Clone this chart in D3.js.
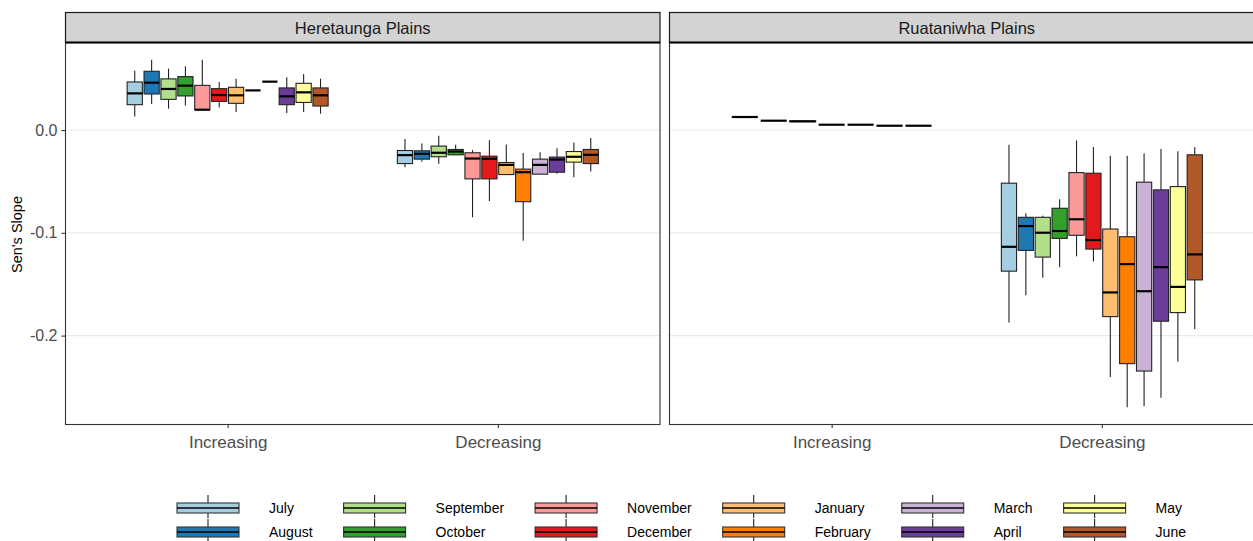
<!DOCTYPE html>
<html>
<head>
<meta charset="utf-8">
<script src="https://cdn.jsdelivr.net/npm/d3@7"></script>
<style>
  html, body { margin: 0; padding: 0; background: #ffffff; }
  svg { display: block; font-family: "Liberation Sans", Arial, sans-serif; }
</style>
</head>
<body>
<svg id="chart" width="1253" height="541"></svg>
<script>
// Months in plotting order, with the Brewer "Paired" palette
const months = ["July", "August", "September", "October", "November", "December",
                "January", "February", "March", "April", "May", "June"];
const monthColors = ["#A6CEE3", "#1F78B4", "#B2DF8A", "#33A02C", "#FB9A99", "#E31A1C",
                     "#FDBF6F", "#FF7F00", "#CAB2D6", "#6A3D9A", "#FFFF99", "#B15928"];

const plains = ["Heretaunga Plains", "Ruataniwha Plains"];
const trends = ["Increasing", "Decreasing"];
const yTicks = [-0.2, -0.1, 0.0];

// Box statistics per month: [lower whisker, Q1, median, Q3, upper whisker]
const heretaungaIncreasing = [
  [0.0133, 0.0247, 0.0357, 0.0468, 0.0576],
  [0.0254, 0.0351, 0.0461, 0.0572, 0.0683],
  [0.0208, 0.0299, 0.0400, 0.0498, 0.0598],
  [0.0240, 0.0332, 0.0432, 0.0520, 0.0621],
  [0.0198, 0.0198, 0.0198, 0.0435, 0.0683],
  [0.0220, 0.0279, 0.0341, 0.0403, 0.0468],
  [0.0176, 0.0260, 0.0338, 0.0416, 0.0500],
  [0.0386, 0.0386, 0.0386, 0.0386, 0.0386],
  [0.0471, 0.0471, 0.0471, 0.0471, 0.0471],
  [0.0166, 0.0247, 0.0328, 0.0410, 0.0513],
  [0.0176, 0.0269, 0.0367, 0.0455, 0.0546],
  [0.0159, 0.0234, 0.0338, 0.0410, 0.0500]
];
const heretaungaDecreasing = [
  [-0.0361, -0.0326, -0.0244, -0.0199, -0.0088],
  [-0.0309, -0.0283, -0.0231, -0.0202, -0.0131],
  [-0.0329, -0.0260, -0.0221, -0.0156, -0.0056],
  [-0.0241, -0.0241, -0.0209, -0.0189, -0.0143],
  [-0.0849, -0.0475, -0.0277, -0.0221, -0.0195],
  [-0.0690, -0.0475, -0.0280, -0.0254, -0.0098],
  [-0.0433, -0.0433, -0.0339, -0.0316, -0.0140],
  [-0.1077, -0.0697, -0.0410, -0.0380, -0.0224],
  [-0.0429, -0.0429, -0.0339, -0.0283, -0.0215],
  [-0.0426, -0.0410, -0.0287, -0.0263, -0.0176],
  [-0.0459, -0.0312, -0.0260, -0.0209, -0.0121],
  [-0.0404, -0.0326, -0.0241, -0.0189, -0.0078]
];
const ruataniwhaIncreasingMonths = ["July", "August", "September", "October",
                                    "November", "December", "January"];
const ruataniwhaIncreasing = [
  [0.0127, 0.0127, 0.0127, 0.0127, 0.0127],
  [0.0091, 0.0091, 0.0091, 0.0091, 0.0091],
  [0.0082, 0.0082, 0.0085, 0.0088, 0.0088],
  [0.0052, 0.0052, 0.0052, 0.0052, 0.0052],
  [0.0052, 0.0052, 0.0052, 0.0052, 0.0052],
  [0.0042, 0.0042, 0.0042, 0.0042, 0.0042],
  [0.0042, 0.0042, 0.0042, 0.0042, 0.0042]
];
const ruataniwhaDecreasing = [
  [-0.1873, -0.1373, -0.1136, -0.0517, -0.0143],
  [-0.1607, -0.1171, -0.0934, -0.0849, -0.0810],
  [-0.1438, -0.1236, -0.0999, -0.0849, -0.0833],
  [-0.1334, -0.1054, -0.0982, -0.0761, -0.0673],
  [-0.1229, -0.1024, -0.0868, -0.0414, -0.0101],
  [-0.1278, -0.1158, -0.1070, -0.0420, -0.0166],
  [-0.2404, -0.1815, -0.1580, -0.0963, -0.0251],
  [-0.2697, -0.2273, -0.1304, -0.1038, -0.0251],
  [-0.2687, -0.2345, -0.1568, -0.0507, -0.0228],
  [-0.2605, -0.1860, -0.1334, -0.0582, -0.0185],
  [-0.2254, -0.1776, -0.1526, -0.0550, -0.0205],
  [-0.1939, -0.1458, -0.1210, -0.0241, -0.0166]
];

// Assemble the per-panel groups used for drawing
const panelGroups = [
  [
    { trend: "Increasing", months: months, stats: heretaungaIncreasing },
    { trend: "Decreasing", months: months, stats: heretaungaDecreasing }
  ],
  [
    { trend: "Increasing", months: ruataniwhaIncreasingMonths, stats: ruataniwhaIncreasing },
    { trend: "Decreasing", months: months, stats: ruataniwhaDecreasing }
  ]
];

const svg = d3.select("#chart");
const color = d3.scaleOrdinal().domain(months).range(monthColors);

const stripTop = 12.5, stripBottom = 42.5, plotBottom = 424.5;
const panelX = [[65.5, 660], [669.5, 1264]];

const y = d3.scaleLinear().domain([-0.2865, 0.0852]).range([plotBottom, stripBottom]);

const dodgeWidth = 0.75;   // share of a category step used by the boxes
const boxPadding = 0.9;    // box width relative to its dodge slot

plains.forEach((name, p) => {
  const [x0, x1] = panelX[p];
  const x = d3.scalePoint().domain(trends).range([x0, x1]).padding(0.6);
  const g = svg.append("g");

  // panel background and grid
  g.append("rect").attr("x", x0).attr("y", stripBottom)
    .attr("width", x1 - x0).attr("height", plotBottom - stripBottom).attr("fill", "#fff");
  g.selectAll("line.grid").data(yTicks).join("line").attr("class", "grid")
    .attr("x1", x0).attr("x2", x1)
    .attr("y1", d => y(d)).attr("y2", d => y(d))
    .attr("stroke", "#EBEBEB").attr("stroke-width", 1.1);

  // boxes
  panelGroups[p].forEach(grp => {
    const cx = x(grp.trend);
    const total = x.step() * dodgeWidth;
    const slot = total / grp.months.length;
    const bw = slot * boxPadding;
    grp.months.forEach((m, i) => {
      const [lo, q1, med, q3, hi] = grp.stats[i];
      const c = cx - total / 2 + slot * (i + 0.5);
      const b = g.append("g");
      b.append("line").attr("x1", c).attr("x2", c)
        .attr("y1", y(hi)).attr("y2", y(q3))
        .attr("stroke", "#222").attr("stroke-width", 1.1);
      b.append("line").attr("x1", c).attr("x2", c)
        .attr("y1", y(q1)).attr("y2", y(lo))
        .attr("stroke", "#222").attr("stroke-width", 1.1);
      b.append("rect").attr("x", c - bw / 2).attr("width", bw)
        .attr("y", y(q3)).attr("height", Math.max(0, y(q1) - y(q3)))
        .attr("fill", color(m)).attr("stroke", "#222").attr("stroke-width", 1.1);
      b.append("line").attr("x1", c - bw / 2).attr("x2", c + bw / 2)
        .attr("y1", y(med)).attr("y2", y(med))
        .attr("stroke", "#000").attr("stroke-width", 2.2);
    });
  });

  // panel border
  g.append("rect").attr("x", x0).attr("y", stripBottom)
    .attr("width", x1 - x0).attr("height", plotBottom - stripBottom)
    .attr("fill", "none").attr("stroke", "#333").attr("stroke-width", 1.1);

  // strip
  g.append("rect").attr("x", x0).attr("y", stripTop)
    .attr("width", x1 - x0).attr("height", stripBottom - stripTop)
    .attr("fill", "#D3D3D3").attr("stroke", "#1a1a1a").attr("stroke-width", 1.2);
  g.append("line").attr("x1", x0).attr("x2", x1)
    .attr("y1", stripBottom).attr("y2", stripBottom)
    .attr("stroke", "#000").attr("stroke-width", 2.2);
  g.append("text").attr("x", (x0 + x1) / 2).attr("y", (stripTop + stripBottom) / 2)
    .attr("text-anchor", "middle").attr("dominant-baseline", "central")
    .attr("font-size", 16.5).attr("fill", "#1A1A1A").text(name);

  // x axis
  const xa = svg.append("g").attr("transform", `translate(0,${plotBottom})`)
    .call(d3.axisBottom(x).tickSize(3.5).tickPadding(8));
  xa.select(".domain").remove();
  xa.selectAll(".tick line").attr("stroke", "#333").attr("stroke-width", 1.1);
  xa.selectAll(".tick text").attr("fill", "#4D4D4D").attr("font-size", 17)
    .attr("font-family", "Liberation Sans, Arial, sans-serif");

  // y axis on the first panel only
  if (p === 0) {
    const ya = svg.append("g").attr("transform", `translate(${x0},0)`)
      .call(d3.axisLeft(y).tickValues(yTicks).tickFormat(d => d.toFixed(1))
        .tickSize(4).tickPadding(4));
    ya.select(".domain").remove();
    ya.selectAll(".tick line").attr("stroke", "#333").attr("stroke-width", 1.1);
    ya.selectAll(".tick text").attr("fill", "#4D4D4D").attr("font-size", 16)
      .attr("font-family", "Liberation Sans, Arial, sans-serif");
  }
});

// y axis title
svg.append("text")
  .attr("transform", `translate(17,${(stripBottom + plotBottom) / 2 + 1}) rotate(-90)`)
  .attr("text-anchor", "middle").attr("dominant-baseline", "central")
  .attr("font-size", 14.5).attr("fill", "#000").text("Sen's Slope");

// legend: two rows, filled column by column
const legend = svg.append("g");
const keyW = 62, keyH = 9, rowY = [508, 532], labelGap = 30, colGap = 31;
let colX = 177;
for (let col = 0; col < months.length / 2; col++) {
  const pair = months.slice(col * 2, col * 2 + 2);
  let maxW = 0;
  pair.forEach((m, r) => {
    const cy = rowY[r];
    const cx = colX + keyW / 2;
    legend.append("line").attr("x1", cx).attr("x2", cx)
      .attr("y1", cy - 13).attr("y2", cy + 10)
      .attr("stroke", "#222").attr("stroke-width", 1.1);
    legend.append("rect").attr("x", colX).attr("y", cy - keyH / 2 - 0.5)
      .attr("width", keyW).attr("height", keyH + 1)
      .attr("fill", color(m)).attr("stroke", "#333").attr("stroke-width", 1.1);
    legend.append("line").attr("x1", colX).attr("x2", colX + keyW)
      .attr("y1", cy).attr("y2", cy)
      .attr("stroke", "#000").attr("stroke-width", 1.3);
    const t = legend.append("text").attr("x", colX + keyW + labelGap).attr("y", cy)
      .attr("dominant-baseline", "central").attr("font-size", 14)
      .attr("fill", "#000").text(m);
    maxW = Math.max(maxW, t.node().getComputedTextLength());
  });
  colX = colX + keyW + labelGap + maxW + colGap;
}
</script>
</body>
</html>
